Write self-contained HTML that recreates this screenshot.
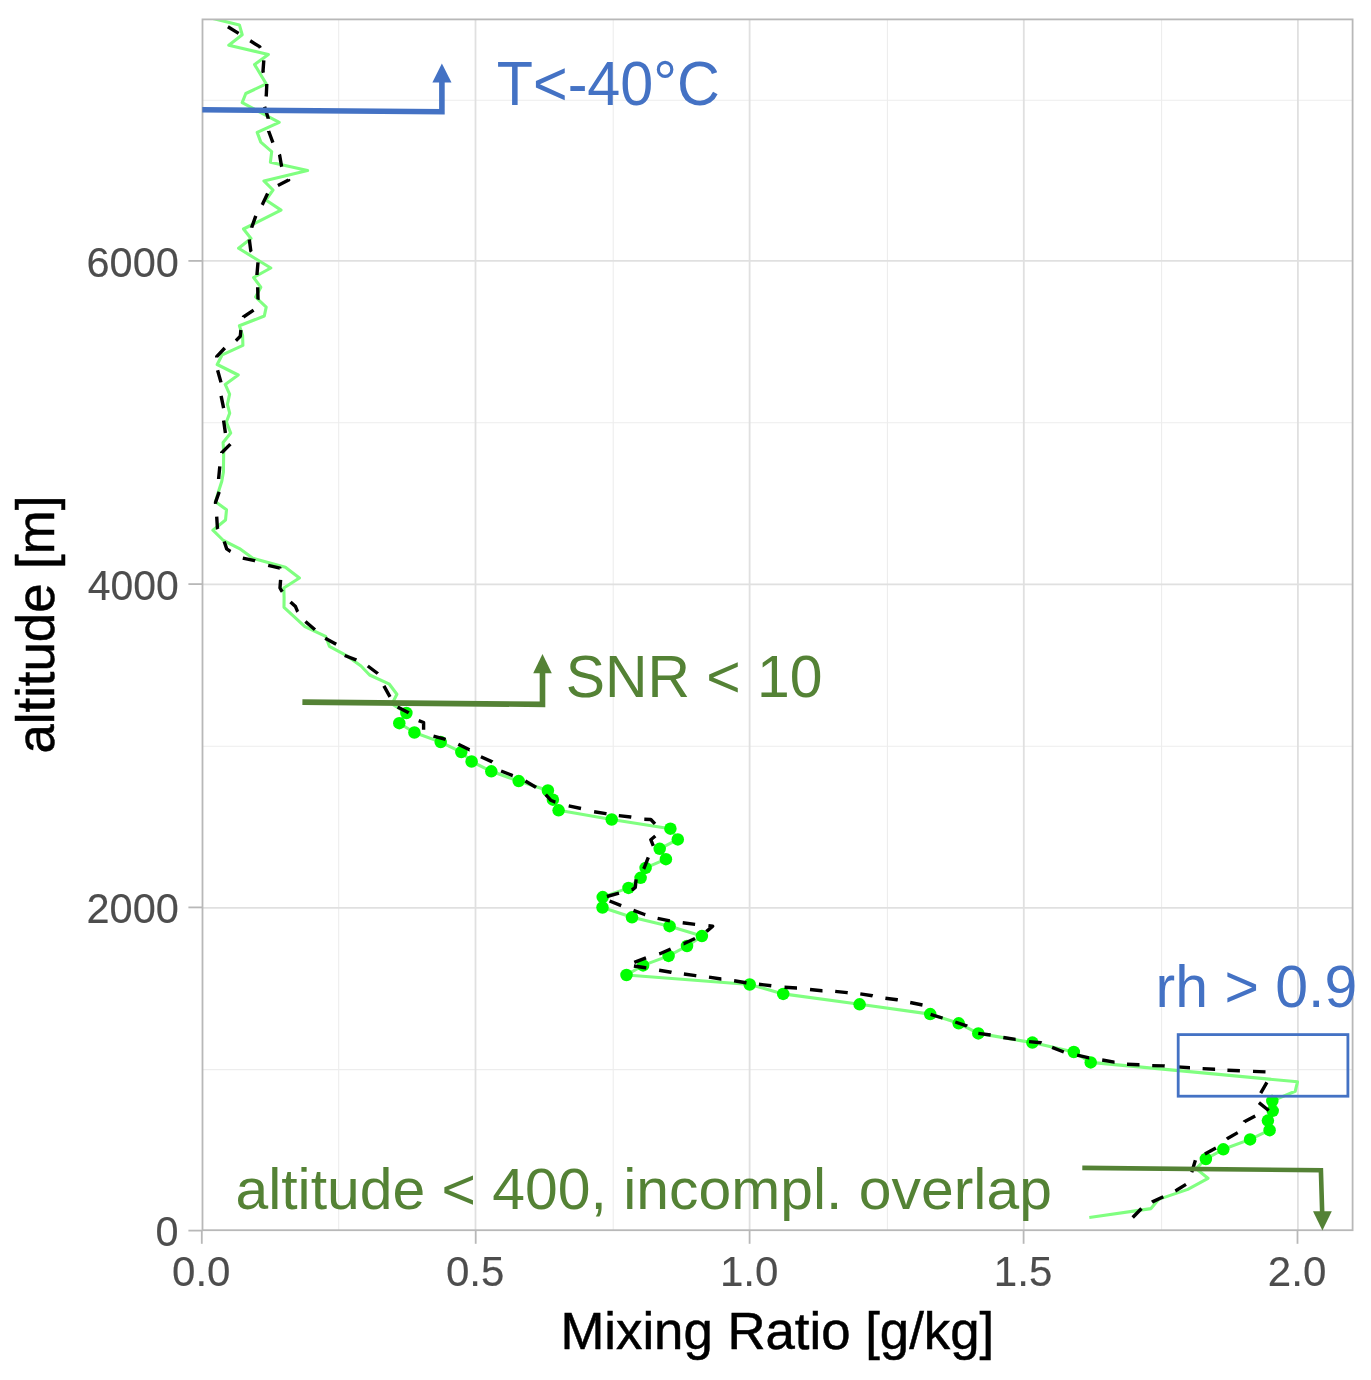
<!DOCTYPE html>
<html lang="en"><head><meta charset="utf-8"><title>Mixing Ratio profile</title>
<style>html,body{margin:0;padding:0;background:#fff;overflow:hidden}svg{display:block}text{font-family:"Liberation Sans",sans-serif}</style></head><body>
<svg width="1371" height="1380" viewBox="0 0 1371 1380">
<rect width="1371" height="1380" fill="#fff"/>
<defs><clipPath id="pc"><rect x="202.5" y="19.4" width="1150.1" height="1210.8"/></clipPath></defs>
<g stroke="#ededed" stroke-width="1.1">
<line x1="338.7" x2="338.7" y1="19.4" y2="1230.2"/>
<line x1="613.2" x2="613.2" y1="19.4" y2="1230.2"/>
<line x1="887.4" x2="887.4" y1="19.4" y2="1230.2"/>
<line x1="1161.6" x2="1161.6" y1="19.4" y2="1230.2"/>
<line x1="202.5" x2="1352.6" y1="100.3" y2="100.3"/>
<line x1="202.5" x2="1352.6" y1="422.8" y2="422.8"/>
<line x1="202.5" x2="1352.6" y1="746.3" y2="746.3"/>
<line x1="202.5" x2="1352.6" y1="1069.6" y2="1069.6"/>
</g><g stroke="#e0e0e0" stroke-width="1.8">
<line x1="475.5" x2="475.5" y1="19.4" y2="1230.2"/>
<line x1="749.6" x2="749.6" y1="19.4" y2="1230.2"/>
<line x1="1023.8" x2="1023.8" y1="19.4" y2="1230.2"/>
<line x1="1297.9" x2="1297.9" y1="19.4" y2="1230.2"/>
<line x1="202.5" x2="1352.6" y1="260.9" y2="260.9"/>
<line x1="202.5" x2="1352.6" y1="584.3" y2="584.3"/>
<line x1="202.5" x2="1352.6" y1="907.9" y2="907.9"/>
</g>
<g clip-path="url(#pc)">
<polyline fill="none" stroke="#80ff80" stroke-width="3.1" stroke-linejoin="round" points="199.4,15.2 239.4,24.9 242.2,34.7 228.8,45.2 268.4,54.5 254.6,64.6 266.2,83.9 245.8,93.5 242.2,102.6 279.2,122.3 257.2,132.4 260.8,142.1 271.7,151.6 270.4,162.2 307.6,170.6 263.9,180.9 273.0,190.0 265.9,200.0 281.0,210.1 243.5,229.0 251.0,238.5 238.6,248.3 270.8,268.0 253.6,277.5 260.8,287.2 255.6,297.0 266.2,307.2 264.3,316.0 239.4,325.8 242.6,335.5 242.9,345.4 222.2,354.8 217.2,364.5 238.2,375.0 225.2,384.4 229.6,394.2 227.4,404.4 229.7,413.1 226.4,422.0 230.7,433.0 223.1,442.5 223.7,452.2 223.4,472.0 221.8,481.3 218.6,491.2 215.5,501.7 226.5,509.8 225.5,520.0 212.9,530.2 223.4,540.5 239.5,548.6 252.8,558.2 285.4,567.2 299.4,578.0 283.8,588.0 284.1,597.9 284.0,607.3 304.9,626.7 325.6,636.3 329.4,646.3 347.5,656.2 361.0,666.0 369.6,675.0 389.4,684.2 396.9,694.2 392.0,703.9 406.4,713.0 399.3,723.2 414.4,732.5 440.7,742.1 461.3,752.1 471.6,761.5 491.3,771.3 518.7,781.1 547.9,790.5 552.9,799.7 558.6,810.3 611.7,819.5 670.4,828.7 677.8,839.4 659.7,848.8 665.9,859.2 645.6,867.9 640.6,877.8 628.5,887.9 602.7,897.1 602.5,907.5 632.0,917.3 669.6,926.2 701.9,936.1 687.0,946.0 668.6,955.9 643.1,965.4 626.5,975.0 749.7,984.5 783.2,993.9 859.6,1004.3 930.2,1014.1 958.7,1023.3 978.3,1033.4 1032.4,1042.6 1073.8,1052.0 1090.7,1062.4 1297.5,1081.8 1295.2,1091.3 1272.3,1100.9 1272.7,1110.8 1267.9,1120.6 1269.6,1130.2 1250.1,1139.4 1223.3,1149.3 1205.9,1159.0 1196.1,1168.6 1208.0,1178.3 1187.8,1189.4 1158.5,1199.4 1151.0,1208.6 1089.3,1217.5"/>
<g fill="#00ff00">
<circle cx="406.4" cy="713.0" r="6.25"/>
<circle cx="399.3" cy="723.2" r="6.25"/>
<circle cx="414.4" cy="732.5" r="6.25"/>
<circle cx="440.7" cy="742.1" r="6.25"/>
<circle cx="461.3" cy="752.1" r="6.25"/>
<circle cx="471.6" cy="761.5" r="6.25"/>
<circle cx="491.3" cy="771.3" r="6.25"/>
<circle cx="518.7" cy="781.1" r="6.25"/>
<circle cx="547.9" cy="790.5" r="6.25"/>
<circle cx="552.9" cy="799.7" r="6.25"/>
<circle cx="558.6" cy="810.3" r="6.25"/>
<circle cx="611.7" cy="819.5" r="6.25"/>
<circle cx="670.4" cy="828.7" r="6.25"/>
<circle cx="677.8" cy="839.4" r="6.25"/>
<circle cx="659.7" cy="848.8" r="6.25"/>
<circle cx="665.9" cy="859.2" r="6.25"/>
<circle cx="645.6" cy="867.9" r="6.25"/>
<circle cx="640.6" cy="877.8" r="6.25"/>
<circle cx="628.5" cy="887.9" r="6.25"/>
<circle cx="602.7" cy="897.1" r="6.25"/>
<circle cx="602.5" cy="907.5" r="6.25"/>
<circle cx="632.0" cy="917.3" r="6.25"/>
<circle cx="669.6" cy="926.2" r="6.25"/>
<circle cx="701.9" cy="936.1" r="6.25"/>
<circle cx="687.0" cy="946.0" r="6.25"/>
<circle cx="668.6" cy="955.9" r="6.25"/>
<circle cx="643.1" cy="965.4" r="6.25"/>
<circle cx="626.5" cy="975.0" r="6.25"/>
<circle cx="749.7" cy="984.5" r="6.25"/>
<circle cx="783.2" cy="993.9" r="6.25"/>
<circle cx="859.6" cy="1004.3" r="6.25"/>
<circle cx="930.2" cy="1014.1" r="6.25"/>
<circle cx="958.7" cy="1023.3" r="6.25"/>
<circle cx="978.3" cy="1033.4" r="6.25"/>
<circle cx="1032.4" cy="1042.6" r="6.25"/>
<circle cx="1073.8" cy="1052.0" r="6.25"/>
<circle cx="1090.7" cy="1062.4" r="6.25"/>
<circle cx="1272.3" cy="1100.9" r="6.25"/>
<circle cx="1272.7" cy="1110.8" r="6.25"/>
<circle cx="1267.9" cy="1120.6" r="6.25"/>
<circle cx="1269.6" cy="1130.2" r="6.25"/>
<circle cx="1250.1" cy="1139.4" r="6.25"/>
<circle cx="1223.3" cy="1149.3" r="6.25"/>
<circle cx="1205.9" cy="1159.0" r="6.25"/>
</g>
<path fill="none" stroke="#000" stroke-width="3.4" stroke-linejoin="round" d="M227.9,26.8 L238.6,33.4 M250.2,40.8 L259.6,46.6 L260.4,47.9 M263.8,60.3 L263.0,71.4 L263.4,72.8 M266.8,83.9 L266.8,84.0 L266.3,95.0 L266.1,96.4 M264.6,106.8 L268.3,118.5 L268.3,118.8 M268.6,130.9 L268.6,131.0 L272.9,142.7 M279.3,154.5 L279.6,155.0 L281.6,166.5 L281.7,166.8 M288.3,179.5 L288.6,180.0 L277.9,185.4 M267.6,193.6 L262.6,204.1 L262.1,204.9 M255.8,215.9 L251.8,227.1 L251.7,227.7 M249.3,239.5 L250.8,250.9 L251.4,251.8 M258.0,262.4 L257.0,274.2 L257.0,274.9 M257.7,287.2 L258.0,299.0 L257.7,299.7 M253.6,310.2 L243.4,317.0 L243.3,317.3 M240.9,330.0 L240.3,336.2 L236.0,340.6 L235.9,340.7 M224.8,348.0 L216.7,356.7 L216.7,357.4 M217.6,370.3 L221.0,382.4 M221.1,395.8 L223.6,408.1 M223.6,420.6 L225.4,433.0 L225.4,433.0 M230.4,444.1 L221.7,452.8 L221.7,453.0 M219.8,466.4 L218.6,478.8 L218.6,478.9 M219.2,491.9 L215.5,502.4 L215.6,503.8 M216.7,516.7 L217.4,527.9 L218.0,529.1 M224.2,541.5 L226.7,548.9 L230.4,551.4 L230.6,551.5 M242.8,558.2 L254.6,560.7 L255.1,560.9 M268.2,565.4 L280.0,568.2 L280.1,568.6 M280.6,579.9 L280.0,588.0 L281.8,591.1 L282.3,591.8 M290.5,601.9 L295.5,606.6 L297.3,610.9 L297.9,611.7 M305.4,621.5 L314.7,629.5 L314.9,629.7 M325.2,638.2 L336.2,644.3 M344.7,655.5 L356.0,659.8 L356.4,660.0 M367.8,666.0 L377.7,673.5 L377.8,673.6 M383.9,685.9 L390.0,696.9 M397.6,707.0 L408.1,712.5 L408.7,712.9 M418.7,720.6 L423.6,722.5 L423.6,729.8 M433.5,736.1 L444.7,739.2 L445.6,739.5 M458.3,744.2 L469.5,749.7 L469.6,749.7 M480.9,756.7 L492.2,761.9 L492.3,762.0 M501.1,771.0 L512.2,775.4 L512.8,775.6 M525.3,781.0 L535.8,787.2 L536.1,787.4 M545.7,794.6 L550.7,800.2 L555.0,802.0 L555.4,802.1 M568.7,805.8 L581.0,808.5 M594.1,811.7 L605.9,813.6 L606.5,813.7 M618.8,815.6 L630.7,817.0 L631.3,817.1 M644.3,819.3 L650.8,819.5 L655.0,823.9 M655.3,836.0 L650.8,839.7 L653.3,845.9 M648.3,857.3 L644.0,868.3 L643.6,868.9 M636.1,879.4 L635.3,887.4 L632.8,889.4 L631.5,889.7 M619.0,893.1 L606.9,896.5 M609.6,901.0 L621.2,905.7 L621.2,905.7 M633.5,910.4 L644.6,914.5 L645.3,914.7 M657.6,918.4 L669.9,920.9 M682.7,922.8 L695.1,924.4 L695.1,924.4 M708.4,925.8 L712.7,926.3 L706.6,931.4 L706.4,931.6 M695.0,938.5 L683.7,943.7 L683.6,943.7 M670.7,949.0 L659.9,953.7 L659.2,953.9 M646.0,957.9 L634.3,962.4 M633.9,966.0 L645.5,967.8 L646.3,967.9 M659.1,970.3 L671.1,972.2 L671.5,972.3 M683.9,974.0 L695.6,975.6 L696.3,975.7 M709.0,977.1 L721.1,979.0 L721.4,979.0 M734.1,980.8 L745.9,982.7 L746.5,982.8 M758.9,984.2 L771.3,985.8 L771.3,985.8 M784.5,987.2 L796.7,988.0 L797.0,988.0 M810.0,989.5 L821.9,990.8 L822.5,990.8 M835.2,991.4 L847.0,992.6 L847.7,992.7 M860.3,993.9 L872.4,995.7 L872.7,995.8 M885.4,998.2 L897.2,999.8 L897.8,999.9 M910.2,1002.5 L922.5,1005.0 M930.6,1014.4 L942.3,1018.0 L942.6,1018.1 M955.3,1022.0 L966.5,1025.8 L967.1,1026.2 M978.3,1033.4 L990.7,1035.0 L990.7,1035.0 M1003.3,1037.5 L1015.5,1039.4 L1015.7,1039.4 M1029.1,1041.6 L1040.9,1042.8 L1041.5,1043.1 M1052.1,1047.4 L1063.8,1052.0 M1077.1,1055.2 L1089.1,1057.9 L1089.3,1057.9 M1102.2,1060.0 L1114.3,1062.1 L1114.6,1062.1 M1127.0,1064.3 L1139.1,1064.8 L1139.5,1064.8 M1152.2,1065.6 L1163.9,1065.9 L1164.7,1066.0 M1177.5,1066.9 L1189.6,1067.8 L1190.0,1067.8 M1202.6,1068.6 L1214.7,1069.2 L1215.1,1069.2 M1227.4,1070.3 L1239.9,1070.8 M1253.0,1071.4 L1265.5,1071.9 L1265.5,1071.9 M1266.9,1082.3 L1260.7,1093.2 M1258.9,1102.7 L1268.7,1110.5 M1255.2,1115.9 L1244.3,1121.7 L1244.2,1121.9 M1237.7,1132.6 L1227.5,1138.5 L1226.9,1139.0 M1215.9,1148.0 L1204.9,1154.1 M1195.4,1160.3 L1191.8,1172.0 L1191.7,1172.3 M1186.0,1184.4 L1176.5,1190.3 L1175.3,1190.9 M1163.3,1196.8 L1152.4,1201.9 L1152.0,1202.2 M1141.5,1208.5 L1132.7,1217.5"/>
</g>
<rect x="202.5" y="19.4" width="1150.1" height="1210.8" fill="none" stroke="#b8b8b8" stroke-width="1.8"/>
<g stroke="#b8b8b8" stroke-width="1.8">
<line x1="201.8" x2="201.8" y1="1230.2" y2="1243.8"/>
<line x1="475.7" x2="475.7" y1="1230.2" y2="1243.8"/>
<line x1="749.6" x2="749.6" y1="1230.2" y2="1243.8"/>
<line x1="1023.6" x2="1023.6" y1="1230.2" y2="1243.8"/>
<line x1="1297.5" x2="1297.5" y1="1230.2" y2="1243.8"/>
<line x1="188.4" x2="202.5" y1="1230.6" y2="1230.6"/>
<line x1="188.4" x2="202.5" y1="907.4" y2="907.4"/>
<line x1="188.4" x2="202.5" y1="584.1" y2="584.1"/>
<line x1="188.4" x2="202.5" y1="260.9" y2="260.9"/>
</g>
<text transform="translate(201.25,1285.77) scale(0.9823,1)" font-size="42.82" text-anchor="middle" fill="#4d4d4d" stroke="#4d4d4d" stroke-width="0.15">0.0</text>
<text transform="translate(475.20,1285.77) scale(0.9823,1)" font-size="42.82" text-anchor="middle" fill="#4d4d4d" stroke="#4d4d4d" stroke-width="0.15">0.5</text>
<text transform="translate(749.15,1285.77) scale(0.9823,1)" font-size="42.82" text-anchor="middle" fill="#4d4d4d" stroke="#4d4d4d" stroke-width="0.15">1.0</text>
<text transform="translate(1023.10,1285.77) scale(0.9823,1)" font-size="42.82" text-anchor="middle" fill="#4d4d4d" stroke="#4d4d4d" stroke-width="0.15">1.5</text>
<text transform="translate(1297.05,1285.77) scale(0.9823,1)" font-size="42.82" text-anchor="middle" fill="#4d4d4d" stroke="#4d4d4d" stroke-width="0.15">2.0</text>
<text transform="translate(155.44,1246.47) scale(0.9683,1)" font-size="42.82" fill="#4d4d4d" stroke="#4d4d4d" stroke-width="0.15">0</text>
<text transform="translate(86.52,923.23) scale(0.9693,1)" font-size="42.82" fill="#4d4d4d" stroke="#4d4d4d" stroke-width="0.15">2000</text>
<text transform="translate(87.78,599.99) scale(0.9558,1)" font-size="42.82" fill="#4d4d4d" stroke="#4d4d4d" stroke-width="0.15">4000</text>
<text transform="translate(86.52,276.75) scale(0.9693,1)" font-size="42.82" fill="#4d4d4d" stroke="#4d4d4d" stroke-width="0.15">6000</text>
<text transform="translate(560.38,1349.14) scale(1.0050,1)" font-size="52.48" fill="#000" stroke="#000" stroke-width="0.5">Mixing Ratio [g/kg]</text>
<text transform="translate(53.84,753.51) rotate(-90) scale(0.9863,1)" font-size="53.45" fill="#000" stroke="#000" stroke-width="0.5">altitude [m]</text>
<g stroke="#4472c4" fill="#4472c4"><polyline fill="none" stroke-width="5.6" stroke-linejoin="miter" points="202.3,109.8 441.9,111.8 441.9,81"/><polygon stroke="none" points="432.4,82.5 451.5,82.5 441.9,63.6"/></g>
<text transform="translate(496.81,105.38) scale(0.9525,1)" font-size="62.25" fill="#4472c4">T&lt;-40°C</text>
<g stroke="#548235" fill="#548235"><polyline fill="none" stroke-width="5.6" points="302.4,702.1 542.5,704.4 542.5,671"/><polygon stroke="none" points="533.2,673.2 551.8,673.2 542.5,654"/></g>
<text transform="translate(565.66,697.31) scale(0.9906,1)" font-size="59.44" fill="#548235">SNR &lt; 10</text>
<rect x="1178.2" y="1034.6" width="169.7" height="61.6" fill="none" stroke="#4472c4" stroke-width="2.8"/>
<text transform="translate(1155.57,1007.41) scale(0.9968,1)" font-size="59.19" fill="#4472c4">rh &gt; 0.9</text>
<g stroke="#548235" fill="#548235"><polyline fill="none" stroke-width="4.6" points="1082.3,1167.9 1320.9,1170.2 1322.2,1213"/><polygon stroke="none" points="1313,1211.3 1331.8,1211.3 1322.4,1230.4"/></g>
<text transform="translate(235.45,1208.74) scale(1.0248,1)" font-size="57.45" fill="#548235">altitude &lt; 400, incompl. overlap</text>
</svg></body></html>
